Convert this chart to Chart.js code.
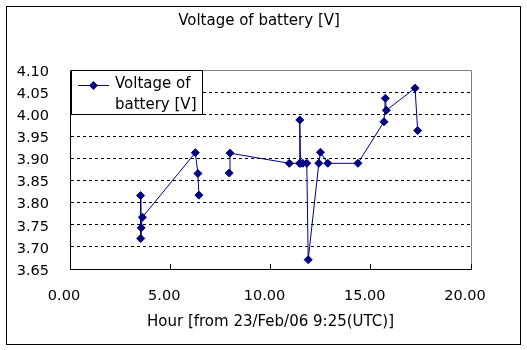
<!DOCTYPE html>
<html>
<head>
<meta charset="utf-8">
<title>Voltage of battery</title>
<script src="https://cdn.jsdelivr.net/npm/chart.js"></script>
<style>
  html, body { margin: 0; padding: 0; background: #fff; }
  #wrap { width: 527px; height: 350px; }
</style>
</head>
<body>
<div id="wrap"><canvas id="voltChart" width="527" height="350"></canvas></div>
<script>
// hours since 23/Feb/06 9:25 UTC, null marks the break in the line
const hours = [3.52, 3.53, 3.55, 3.61, 6.25, 6.38, 6.43, null, 7.94, 7.98,
  10.94, 11.45, 11.46, 11.50, 11.61, 11.81, 11.88, 12.41, 12.49, 12.86,
  14.36, 15.66, 15.73, 15.78, 17.21, 17.34];
const volts = [3.816, 3.719, 3.743, 3.767, 3.913, 3.866, 3.817, null, 3.867, 3.912,
  3.889, 3.889, 3.987, 3.889, 3.889, 3.889, 3.671, 3.889, 3.914, 3.889,
  3.889, 3.983, 4.036, 4.009, 4.059, 3.963];
const seriesName = ['Voltage of', 'battery [V]'];
const xTicks = [0, 5, 10, 15, 20];
const yTicks = [3.65, 3.70, 3.75, 3.80, 3.85, 3.90, 3.95, 4.00, 4.05, 4.10];

const FONT = 'DejaVu Sans';
const NAVY = '#000080';

// frame, plot border, inside x ticks and the boxed legend
const excelLook = {
  id: 'excelLook',
  beforeDatasetsDraw(chart) {
    const { ctx, chartArea: a, scales } = chart;
    ctx.save();
    ctx.lineWidth = 1;
    ctx.strokeStyle = '#808080';
    ctx.beginPath();
    ctx.moveTo(a.left, a.top + 0.5);
    ctx.lineTo(a.right + 0.5, a.top + 0.5);
    ctx.lineTo(a.right + 0.5, a.bottom);
    ctx.stroke();
    ctx.strokeStyle = '#000';
    ctx.beginPath();
    xTicks.forEach(v => {
      const px = Math.floor(scales.x.getPixelForValue(v)) + 0.5;
      ctx.moveTo(px, a.bottom - 5);
      ctx.lineTo(px, a.bottom);
    });
    ctx.stroke();
    ctx.restore();
  },
  afterDraw(chart) {
    const ctx = chart.ctx;
    ctx.save();
    ctx.lineWidth = 1;
    ctx.strokeStyle = '#000';
    ctx.strokeRect(6.5, 6.5, 514, 338);

    // legend box
    ctx.fillStyle = '#fff';
    ctx.fillRect(71, 70, 132, 44);
    ctx.strokeRect(71.5, 70.5, 131, 44);
    ctx.strokeStyle = NAVY;
    ctx.beginPath();
    ctx.moveTo(78, 85.5);
    ctx.lineTo(109, 85.5);
    ctx.stroke();
    ctx.fillStyle = NAVY;
    ctx.beginPath();
    ctx.moveTo(93.5, 81);
    ctx.lineTo(98, 85.5);
    ctx.lineTo(93.5, 90);
    ctx.lineTo(89, 85.5);
    ctx.closePath();
    ctx.fill();
    ctx.fillStyle = '#000';
    ctx.font = '15px "' + FONT + '"';
    ctx.textBaseline = 'middle';
    ctx.fillText(seriesName[0], 115, 84);
    ctx.fillText(seriesName[1], 115, 105);
    ctx.restore();
  }
};

Chart.defaults.color = '#000';
Chart.defaults.font.family = FONT;

new Chart(document.getElementById('voltChart'), {
  type: 'scatter',
  data: {
    datasets: [{
      label: seriesName.join(' '),
      data: hours.map((h, i) => ({ x: h, y: volts[i] })),
      showLine: true,
      spanGaps: false,
      borderColor: NAVY,
      borderWidth: 1,
      backgroundColor: NAVY,
      pointStyle: 'rectRot',
      pointRadius: 4,
      pointBorderWidth: 1,
      pointBorderColor: NAVY
    }]
  },
  options: {
    responsive: false,
    animation: false,
    layout: { padding: { left: 0, right: 9, top: 0, bottom: 0 } },
    plugins: {
      legend: { display: false },
      tooltip: { enabled: false },
      title: {
        display: true,
        text: 'Voltage of battery [V]',
        font: { size: 15, weight: 'normal', family: FONT },
        color: '#000',
        padding: { top: 12, bottom: 40 }
      }
    },
    scales: {
      x: {
        type: 'linear',
        min: 0,
        max: 20,
        afterBuildTicks: s => { s.ticks = xTicks.map(v => ({ value: v })); },
        afterFit: s => { s.height = 81; },
        grid: { display: false, drawTicks: false },
        border: { display: true, color: '#000', width: 1 },
        ticks: {
          padding: 19,
          labelOffset: -6,
          font: { size: 14.5 },
          callback: v => Number(v).toFixed(2)
        },
        title: {
          display: true,
          text: 'Hour [from 23/Feb/06 9:25(UTC)]',
          font: { size: 15 },
          padding: { top: 0, bottom: 19 }
        }
      },
      y: {
        type: 'linear',
        min: 3.65,
        max: 4.10,
        afterBuildTicks: s => { s.ticks = yTicks.map(v => ({ value: v })); },
        afterFit: s => { s.width = 70; },
        grid: {
          drawTicks: false,
          lineWidth: 1,
          color: c => (c.tick && (c.tick.value > 4.09 || c.tick.value < 3.66)) ? 'rgba(0,0,0,0)' : '#000'
        },
        border: { display: true, color: '#000', width: 1, dash: [3, 3] },
        ticks: {
          padding: 21,
          labelOffset: 2,
          font: { size: 14.5 },
          callback: v => Number(v).toFixed(2)
        }
      },
      y2: {
        type: 'linear',
        position: 'right',
        display: true,
        afterFit: s => { s.width = 47; },
        grid: { display: false, drawTicks: false },
        border: { display: false },
        ticks: { display: false }
      }
    }
  },
  plugins: [excelLook]
});
</script>
</body>
</html>
